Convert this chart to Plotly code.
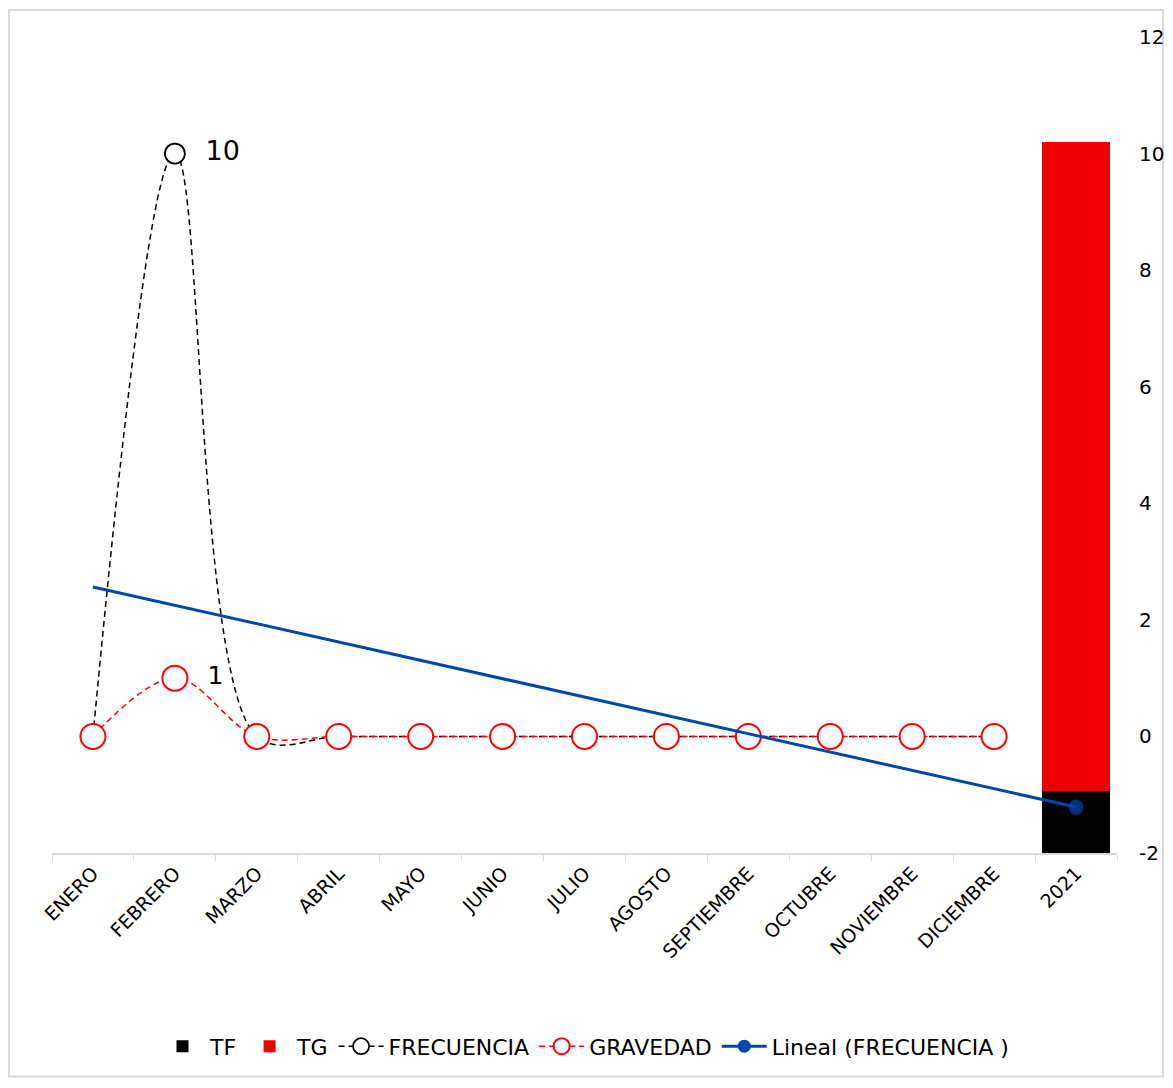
import numpy as np
import plotly.graph_objects as go

months = ["ENERO", "FEBRERO", "MARZO", "ABRIL", "MAYO", "JUNIO", "JULIO",
          "AGOSTO", "SEPTIEMBRE", "OCTUBRE", "NOVIEMBRE", "DICIEMBRE"]
year_label = "2021"
categories = months + [year_label]

frecuencia = [0, 10, 0, 0, 0, 0, 0, 0, 0, 0, 0, 0]
gravedad = [0, 1, 0, 0, 0, 0, 0, 0, 0, 0, 0, 0]
tf_value = [1.07]
tg_value = [11.13]

right_ticks = [-2, 0, 2, 4, 6, 8, 10, 12]

# linear trend of FRECUENCIA, extended one period forward (like Excel)
xs = np.arange(1, len(frecuencia) + 1)
slope, intercept = np.polyfit(xs, frecuencia, 1)
trend_x = np.arange(1, len(categories) + 1)
trend_y = slope * trend_x + intercept

FONT = "DejaVu Sans"
BLUE = "#0047AB"
# the page body adds an 8px offset, so the figure is a bit smaller than the window
W, H = 1157, 1072
ML, MR, MT, MB = 44, 48, 29, 225

fig = go.Figure()

fig.add_trace(go.Bar(
    x=[year_label], y=tf_value, name="TF",
    marker=dict(color="black", line=dict(width=0)),
    yaxis="y",
))
fig.add_trace(go.Bar(
    x=[year_label], y=tg_value, name="TG",
    marker=dict(color="#EE0000", line=dict(width=0)),
    yaxis="y",
))

fig.add_trace(go.Scatter(
    x=months, y=frecuencia, name="FRECUENCIA",
    mode="lines+markers+text",
    line=dict(color="black", width=1.5, dash="6px,4px", shape="spline", smoothing=1),
    marker=dict(symbol="circle", size=20, color="white",
                line=dict(color="black", width=1.8)),
    text=[f"  {v}" if v else "" for v in frecuencia],
    textposition="middle right",
    textfont=dict(size=27, color="black", family=FONT),
    yaxis="y2", cliponaxis=False,
))
fig.add_trace(go.Scatter(
    x=months, y=gravedad, name="GRAVEDAD",
    mode="lines+markers+text",
    line=dict(color="#FF0000", width=1.5, dash="6px,4px", shape="spline", smoothing=1),
    marker=dict(symbol="circle", size=25, color="white",
                line=dict(color="#FF0000", width=2)),
    text=[f"  {v}" if v else "" for v in gravedad],
    textposition="middle right",
    textfont=dict(size=25, color="black", family=FONT),
    yaxis="y2", cliponaxis=False,
))

# trend line: drawn without legend, end marker only at last period
fig.add_trace(go.Scatter(
    x=categories, y=trend_y, name="Lineal (FRECUENCIA )",
    mode="lines+markers", showlegend=False,
    line=dict(color=BLUE, width=3),
    marker=dict(size=[0] * (len(categories) - 1) + [15], color=BLUE,
                line=dict(width=0)),
    yaxis="y2",
))
# legend entry for the trend
fig.add_trace(go.Scatter(
    x=[None], y=[None], name="Lineal (FRECUENCIA )",
    mode="lines+markers",
    line=dict(color=BLUE, width=3),
    marker=dict(size=13, color=BLUE, line=dict(width=0)),
    yaxis="y2",
))

fig.update_layout(
    width=W, height=H,
    paper_bgcolor="white", plot_bgcolor="white",
    margin=dict(l=ML, r=MR, t=MT, b=MB),
    barmode="stack", bargap=0.16,
    font=dict(family=FONT, color="black"),
    showlegend=True,
    legend=dict(orientation="h", x=0.5, xanchor="center", y=-0.237, yanchor="middle",
                font=dict(size=22, family=FONT), traceorder="normal",
                itemwidth=45),
    xaxis=dict(
        type="category", categoryorder="array", categoryarray=categories,
        range=[-0.5, len(categories) - 0.5],
        tickangle=-45, tickfont=dict(size=19, family=FONT),
        showline=True, linecolor="#D9D9D9", linewidth=2,
        ticks="outside", tickson="boundaries", ticklen=6, tickcolor="#D9D9D9",
        showgrid=False, zeroline=False, automargin=False,
    ),
    yaxis=dict(range=[0, 14], visible=False, showgrid=False, zeroline=False,
               automargin=False),
    yaxis2=dict(
        overlaying="y", side="right", range=[-2, 12],
        tickmode="array", tickvals=right_ticks, ticktext=[str(t) for t in right_ticks],
        tickfont=dict(size=20, family=FONT),
        showgrid=False, zeroline=False, showline=False, ticks="",
        ticklabelstandoff=21, automargin=False,
    ),
)

# light grey frame around the whole chart area
pw, ph = W - ML - MR, H - MT - MB
fig.add_shape(
    type="rect", xref="paper", yref="paper",
    x0=-(ML - 1) / pw, x1=1 + (MR - 2) / pw,
    y0=-(MB - 1) / ph, y1=1 + (MT - 2) / ph,
    line=dict(color="#D9D9D9", width=2), fillcolor="rgba(0,0,0,0)", layer="below",
)

fig.write_html("out.html")
